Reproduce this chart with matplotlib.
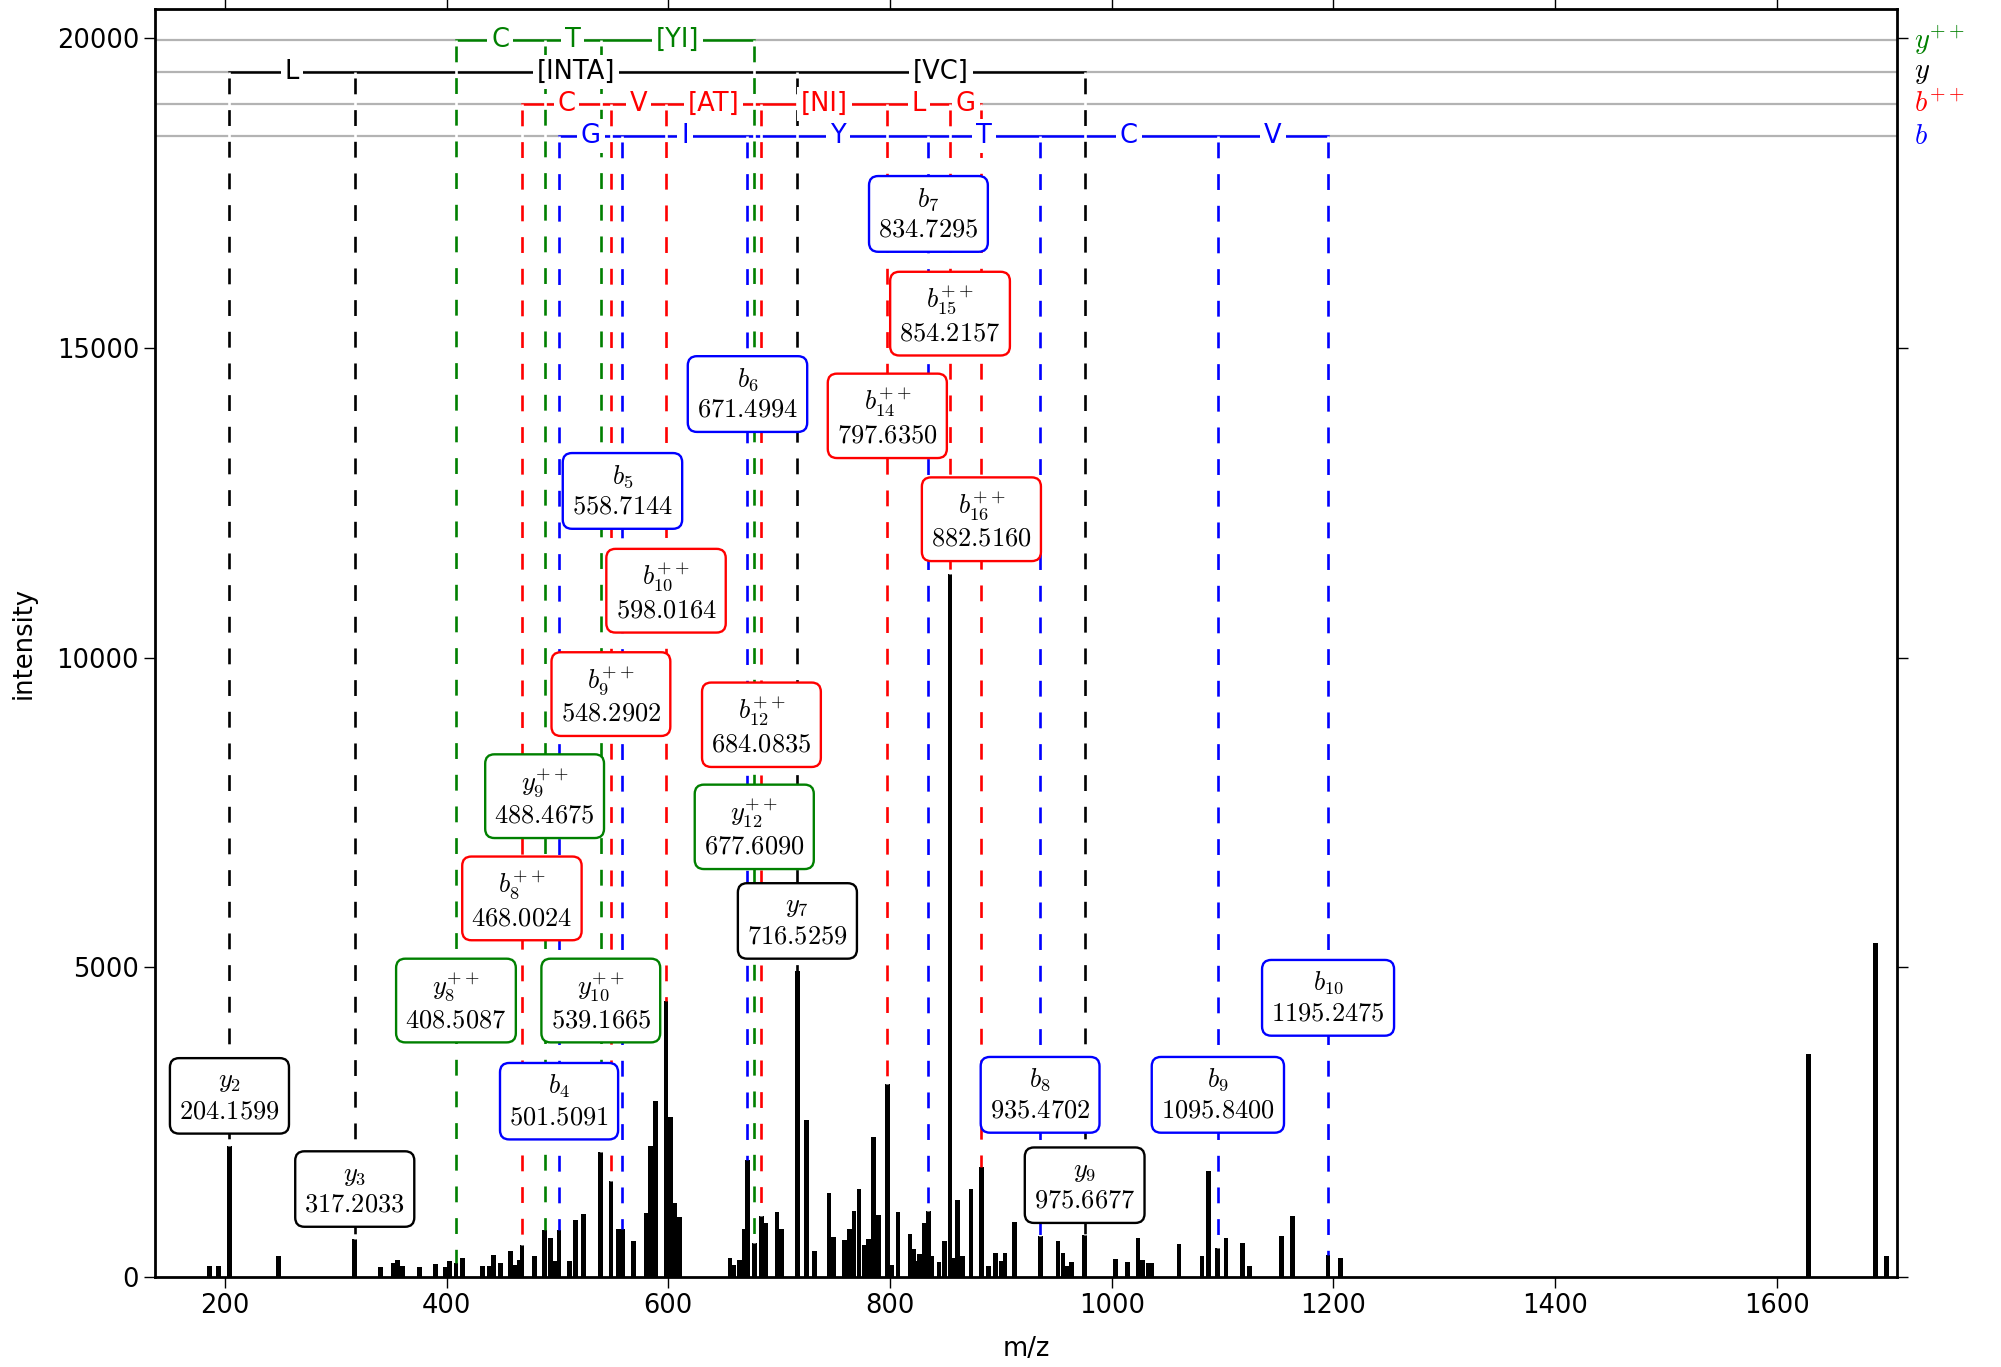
import numpy as np
import matplotlib
matplotlib.use("Agg")
import matplotlib.pyplot as plt

plt.rcParams['mathtext.fontset'] = 'cm'
plt.rcParams['font.family'] = 'DejaVu Sans'
plt.rcParams['lines.scale_dashes'] = False

# spectrum peaks (m/z, intensity)
peak_mz = [186.2, 194.3, 204.16, 248.4, 317.2, 340.1, 352.4, 355.8, 360.3, 375.9,
           390.3, 399.0, 402.4, 408.5, 414.1, 432.4, 438.5, 442.1, 448.4, 457.9,
           461.9, 465.5, 468.0, 479.6, 488.5, 493.7, 498.2, 501.5, 511.1, 516.6,
           523.8, 539.2, 548.3, 554.8, 558.7, 568.6, 580.1, 583.9, 588.4, 598.0,
           602.2, 605.8, 610.1, 655.8, 659.0, 664.2, 668.4, 671.5, 677.6, 684.1,
           688.3, 698.2, 702.4, 716.5, 724.6, 731.8, 745.1, 749.0, 758.9, 763.4,
           767.6, 772.2, 777.2, 780.8, 785.3, 789.8, 797.6, 801.3, 807.3, 818.1,
           821.4, 823.8, 826.8, 830.8, 834.7, 837.4, 844.3, 849.4, 854.2, 857.2,
           861.1, 865.3, 873.2, 882.5, 889.0, 895.1, 900.2, 903.8, 912.2, 935.5,
           951.6, 956.1, 960.0, 963.6, 975.7, 1003.3, 1014.4, 1023.8, 1027.9, 1032.8,
           1035.8, 1060.7, 1081.5, 1087.5, 1095.8, 1103.1, 1118.1, 1124.1, 1153.0, 1163.2,
           1195.2, 1206.2, 1628.6, 1689.1, 1698.8]
peak_int = [178, 178, 2116, 334, 619, 162, 232, 269, 178, 167,
            215, 162, 258, 226, 312, 178, 178, 361, 226, 420,
            199, 269, 522, 334, 765, 635, 253, 754, 258, 926,
            1012, 2019, 1545, 770, 775, 587, 1039, 2122, 2838, 4459,
            2579, 1195, 969, 307, 199, 275, 781, 1896, 555, 991,
            872, 1050, 781, 4943, 2531, 425, 1362, 641, 592, 781,
            1072, 1422, 512, 609, 2267, 1007, 3123, 199, 1045, 700,
            458, 253, 366, 878, 1072, 334, 248, 582, 11350, 307,
            1244, 334, 1427, 1777, 183, 388, 253, 393, 889, 657,
            587, 388, 178, 242, 673, 296, 242, 635, 269, 232,
            232, 528, 334, 1707, 474, 630, 549, 183, 662, 980,
            361, 312, 3607, 5385, 333]

# ion series: name, colour, ladder level, ions (number, m/z, box height), residues
series = [
    ("y", "++", "#008000", 19965,
     [(8, 408.5087, 4441), (9, 488.4675, 7740), (10, 539.1665, 4441), (12, 677.6090, 7245)],
     ["C", "T", "[YI]"]),
    ("y", "", "black", 19455,
     [(2, 204.1599, 2916), (3, 317.2033, 1412), (7, 716.5259, 5740), (9, 975.6677, 1474)],
     ["L", "[INTA]", "[VC]"]),
    ("b", "++", "#ff0000", 18940,
     [(8, 468.0024, 6090), (9, 548.2902, 9388), (10, 598.0164, 11057), (12, 684.0835, 8893),
      (14, 797.6350, 13880), (15, 854.2157, 15530), (16, 882.5160, 12211)],
     ["C", "V", "[AT]", "[NI]", "L", "G"]),
    ("b", "", "#0000ff", 18425,
     [(4, 501.5091, 2834), (5, 558.7144, 12686), (6, 671.4994, 14250), (7, 834.7295, 17158),
      (8, 935.4702, 2937), (9, 1095.8400, 2937), (10, 1195.2475, 4503)],
     ["G", "I", "Y", "T", "C", "V"]),
]

fs = 18.5
fig = plt.figure(figsize=(20.01, 13.67), dpi=100)
ax = fig.add_axes([155 / 2001, 1 - 1277 / 1367, 1742 / 2001, 1268 / 1367])

ax.bar(peak_mz, peak_int, width=4.3, color='black', linewidth=0, zorder=2)

pk_mz = np.array(peak_mz)
pk_int = np.array(peak_int)

for name, charge, color, level, ions, residues in series:
    ax.axhline(level, color='#b3b3b3', lw=1.6, zorder=1)
    mzs = [m for _, m, _ in ions]
    ax.plot([mzs[0], mzs[-1]], [level, level], color=color, lw=1.8, zorder=2.5)
    for i, res in enumerate(residues):
        ax.text((mzs[i] + mzs[i + 1]) / 2, level, res, color=color, fontsize=fs,
                ha='center', va='center', zorder=4,
                bbox=dict(boxstyle='square,pad=0.15', fc='white', ec='none'))
    for num, mz, ybox in ions:
        top = pk_int[np.argmin(np.abs(pk_mz - mz))]
        ax.plot([mz, mz], [level, top], color=color, lw=1.9, zorder=3,
                linestyle=(18.5, (11.4, 11.4)), gapcolor='white')
        sup = "^{++}" if charge else ""
        label = "$%s_{%d}%s$\n$%.4f$" % (name, num, sup, mz)
        ax.text(mz, ybox, label, ha='center', va='center', fontsize=fs + 0.5, zorder=6,
                bbox=dict(boxstyle='round,pad=0.35', fc='white', ec=color, lw=1.7))
    ax.text(1.01, level, "$%s^{%s}$" % (name, charge) if charge else "$%s$" % name,
            transform=ax.get_yaxis_transform(), color=color, fontsize=fs + 2,
            ha='left', va='center')

ax.set_xlim(137, 1708.5)
ax.set_ylim(0, 20470)
ax.set_xticks([200, 400, 600, 800, 1000, 1200, 1400, 1600])
ax.set_yticks([0, 5000, 10000, 15000, 20000])
ax.tick_params(axis='both', which='both', direction='out', length=8, width=1,
               top=True, right=True, labelsize=fs)
for sp in ax.spines.values():
    sp.set_linewidth(2.0)
ax.set_xlabel("m/z", fontsize=fs, labelpad=12)
ax.set_ylabel("intensity", fontsize=fs, labelpad=14)

fig.savefig("out.png", dpi=100)
